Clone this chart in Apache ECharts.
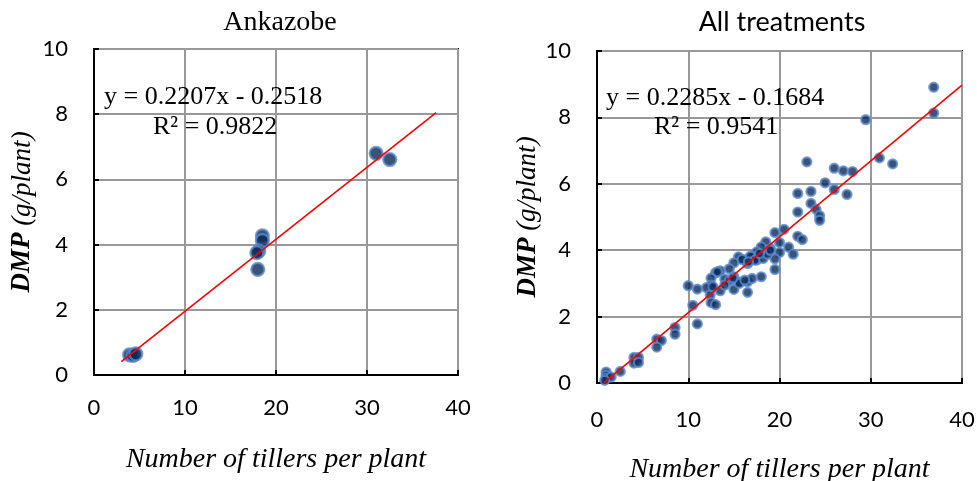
<!DOCTYPE html>
<html>
<head>
<meta charset="utf-8">
<script src="https://cdn.jsdelivr.net/npm/echarts/dist/echarts.min.js"></script>
<style>
  html, body { margin: 0; padding: 0; background: #fff; }
  #main { width: 977px; height: 481px; }
</style>
</head>
<body>
<div id="main"></div>
<script>
// Ankazobe: tillers vs DMP
const ankazobePoints = [
  [31.0, 6.80], [32.5, 6.61], [18.5, 4.27], [18.5, 4.12], [18.1, 3.80],
  [17.9, 3.75], [18.0, 3.24], [3.9, 0.62], [4.3, 0.60], [4.6, 0.65]
]
// All treatments
const allPoints = [
  [36.9, 8.91], [36.9, 8.13], [29.45, 7.93], [30.95, 6.78], [32.4, 6.6],
  [23.0, 6.66], [26.0, 6.47], [27.0, 6.39], [28.0, 6.37], [25.0, 6.03],
  [26.0, 5.83], [27.4, 5.68], [22.0, 5.71], [23.45, 5.77], [23.45, 5.41],
  [24.0, 5.23], [22.0, 5.15], [24.4, 5.04], [24.4, 4.9], [22.0, 4.42],
  [22.5, 4.32], [20.5, 4.63], [19.5, 4.53], [20.0, 4.23], [21.0, 4.09],
  [21.5, 3.88], [20.0, 3.93], [19.5, 3.74], [19.5, 3.42], [18.5, 4.25],
  [19.0, 4.05], [18.0, 4.1], [17.5, 3.95], [17.0, 3.8], [17.5, 3.7],
  [18.2, 3.75], [18.7, 3.88], [16.0, 3.72], [15.5, 3.8], [16.5, 3.6],
  [15.0, 3.62], [14.5, 3.44], [13.5, 3.38], [13.0, 3.32], [12.5, 3.16],
  [14.0, 3.13], [14.5, 3.08], [15.0, 3.2], [15.5, 3.04], [16.5, 3.05],
  [17.0, 3.15], [18.0, 3.2], [15.0, 2.82], [16.5, 2.73], [13.5, 2.78],
  [12.5, 2.95], [12.0, 2.87], [12.4, 2.65], [12.5, 2.42], [13.0, 2.36],
  [10.0, 2.93], [11.0, 2.83], [10.5, 2.34], [11.0, 1.78], [8.55, 1.67],
  [8.55, 1.47], [6.55, 1.32], [7.05, 1.28], [6.55, 1.08], [4.05, 0.77],
  [4.55, 0.77], [4.05, 0.6], [4.55, 0.62], [2.55, 0.35], [1.0, 0.33],
  [1.0, 0.23], [1.0, 0.15], [1.55, 0.18], [0.85, 0.08], [15.6, 3.0],
  [14.9, 3.16], [16.8, 3.82], [17.3, 3.7], [15.9, 3.72], [17.8, 3.9],
  [19.0, 4.0], [16.6, 3.65], [13.2, 3.35], [14.0, 2.95], [12.7, 2.9],
  [16.2, 3.1]
]
// trend lines (from the fitted equations)
const fitLeft = { slope: 0.2207, intercept: -0.2518, from: 3.0, to: 37.6 }
const fitRight = { slope: 0.2285, intercept: -0.1684, from: 0.74, to: 40 }
const xTicks = [0, 10, 20, 30, 40]
const yTicks = [0, 2, 4, 6, 8, 10]

function fitLine (f) {
  return [f.from, f.to].map(x => [x, f.slope * x + f.intercept])
}

const serif = '"Liberation Serif", "Times New Roman", serif'
const sans = 'Lato, "Open Sans", sans-serif'

function xAxisOf (idx, nameGap) {
  return {
    gridIndex: idx,
    type: 'value',
    min: xTicks[0],
    max: xTicks[xTicks.length - 1],
    interval: 10,
    name: 'Number of tillers per plant',
    nameLocation: 'middle',
    nameGap: nameGap,
    nameTextStyle: { fontFamily: serif, fontStyle: 'italic', fontSize: 28, color: '#000' },
    axisLine: { onZero: false, lineStyle: { color: '#000', width: 2 } },
    axisTick: { inside: true, length: 5, lineStyle: { color: '#000', width: 2 } },
    axisLabel: { fontFamily: sans, fontSize: 22, color: '#000', margin: idx === 0 ? 22 : 26 },
    splitLine: { show: true, lineStyle: { color: '#999', width: 2 } }
  }
}

function yAxisOf (idx, nameGap) {
  return {
    gridIndex: idx,
    type: 'value',
    min: yTicks[0],
    max: yTicks[yTicks.length - 1],
    interval: 2,
    name: '{b|DMP} (g/plant)',
    nameLocation: 'middle',
    nameGap: nameGap,
    nameTextStyle: {
      fontFamily: serif, fontStyle: 'italic', fontSize: 27, color: '#000',
      rich: { b: { fontFamily: serif, fontStyle: 'italic', fontWeight: 'bold', fontSize: 27, color: '#000' } }
    },
    axisLine: { onZero: false, lineStyle: { color: '#000', width: 2 } },
    axisTick: { inside: true, length: 5, lineStyle: { color: '#000', width: 2 } },
    axisLabel: { fontFamily: sans, fontSize: 22, color: '#000', margin: 26 },
    splitLine: { show: true, lineStyle: { color: '#999', width: 2 } }
  }
}

const dotStyle = { color: '#0a2858', borderColor: '#5a8bcc', borderWidth: 2.2 }

const chart = echarts.init(document.getElementById('main'))
chart.setOption({
  backgroundColor: '#fff',
  animation: false,
  title: [
    { text: 'Ankazobe', left: 275, top: 4, textAlign: 'center',
      textStyle: { fontFamily: serif, fontWeight: 'normal', fontSize: 28, color: '#000' } },
    { text: 'All treatments', left: 777, top: 4, textAlign: 'center',
      textStyle: { fontFamily: sans, fontWeight: 'normal', fontSize: 27, color: '#000' } }
  ],
  grid: [
    { left: 94, top: 49, width: 364, height: 326, show: true, borderColor: '#000', borderWidth: 2,
      outerBoundsMode: 'none', containLabel: false },
    { left: 597, top: 51, width: 365, height: 332, show: true, borderColor: '#000', borderWidth: 2,
      outerBoundsMode: 'none', containLabel: false }
  ],
  xAxis: [xAxisOf(0, 71), xAxisOf(1, 73)],
  yAxis: [yAxisOf(0, 58), yAxisOf(1, 52)],
  series: [
    { type: 'scatter', xAxisIndex: 0, yAxisIndex: 0, data: ankazobePoints,
      symbolSize: 13, itemStyle: dotStyle },
    { type: 'line', xAxisIndex: 0, yAxisIndex: 0, data: fitLine(fitLeft),
      symbol: 'none', lineStyle: { color: '#ff0000', width: 1.6 } },
    { type: 'scatter', xAxisIndex: 1, yAxisIndex: 1, data: allPoints,
      symbolSize: 9, itemStyle: dotStyle },
    { type: 'line', xAxisIndex: 1, yAxisIndex: 1, data: fitLine(fitRight),
      symbol: 'none', lineStyle: { color: '#ff0000', width: 1.6 } }
  ],
  graphic: [
    { type: 'text', left: 104, top: 84, z: 100,
      style: { text: 'y = 0.2207x - 0.2518', font: '26px ' + serif, fill: '#000' } },
    { type: 'text', left: 153, top: 114, z: 100,
      style: { text: 'R² = 0.9822', font: '26px ' + serif, fill: '#000' } },
    { type: 'text', left: 606, top: 85, z: 100,
      style: { text: 'y = 0.2285x - 0.1684', font: '26px ' + serif, fill: '#000' } },
    { type: 'text', left: 654, top: 114, z: 100,
      style: { text: 'R² = 0.9541', font: '26px ' + serif, fill: '#000' } }
  ]
})
</script>
</body>
</html>
